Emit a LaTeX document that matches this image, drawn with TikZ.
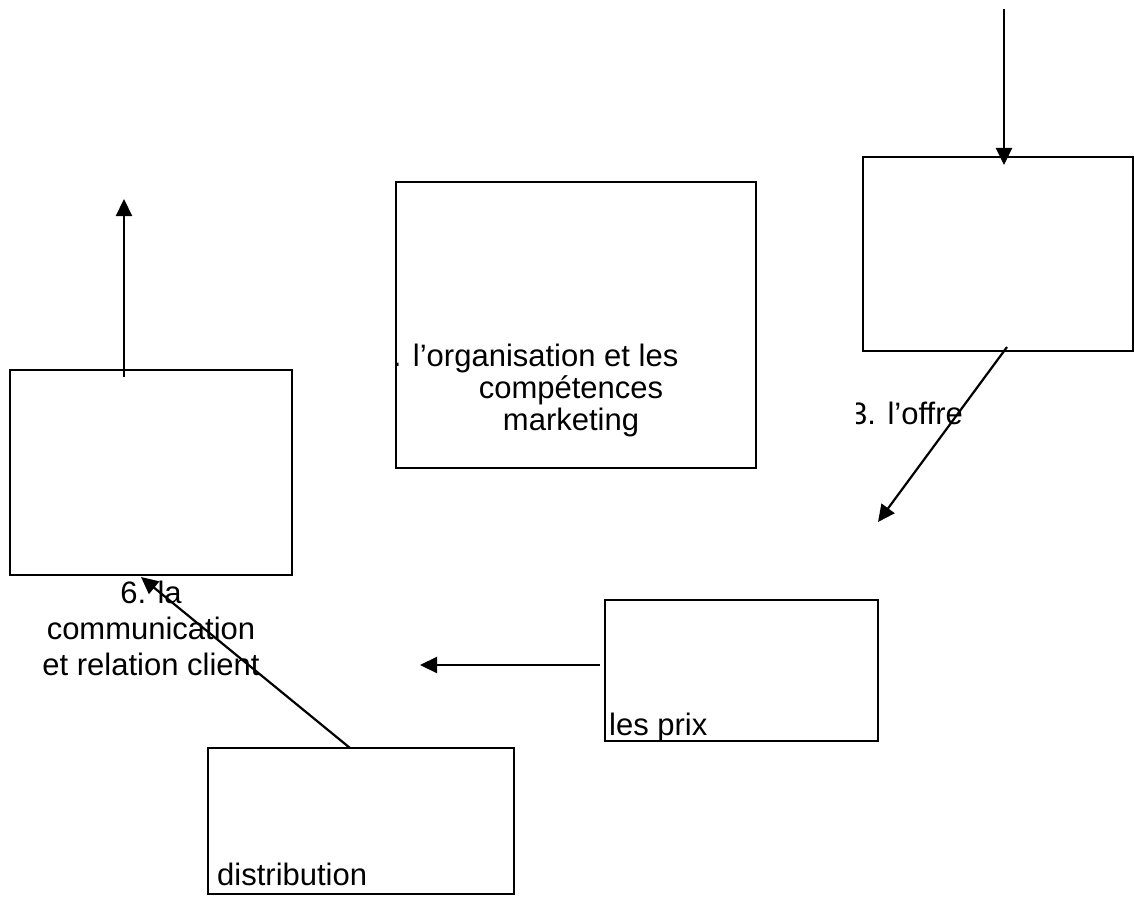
\documentclass[tikz,border=0pt]{standalone}
\usepackage{fontspec}
\setmainfont{Liberation Sans}
\usetikzlibrary{arrows.meta}
\begin{document}
\begin{tikzpicture}[x=1pt,y=-1pt,
  box/.style={draw,line width=2pt,rectangle,inner sep=0pt,outer sep=0pt,anchor=north west},
  conn/.style={line width=2.2pt,-{Triangle[length=17pt,width=16pt]}},
  lbl/.style={inner sep=0pt,font=\fontsize{31}{36}\selectfont}]
\useasboundingbox (0,0) rectangle (1134,896);

% boxes
\node[box,minimum width=282pt,minimum height=205pt] (a) at (10,370) {};
\node[box,minimum width=360pt,minimum height=286pt] (b) at (396,182) {};
\node[box,minimum width=270pt,minimum height=194pt] (c) at (863,157) {};
\node[box,minimum width=273pt,minimum height=141pt] (d) at (605,600) {};
\node[box,minimum width=306pt,minimum height=146pt] (e) at (208,748) {};

% labels
\begin{scope}
  \clip (394,182) rectangle (757,468);
  \node[lbl,align=center,anchor=north,font=\fontsize{31}{32}\selectfont] (b-txt) at (571,344)
    {2. l’organisation et les\hspace*{88pt}\\compétences\\marketing};
\end{scope}
\begin{scope}
  \clip (856.5,360) rectangle (1000,440);
  \node[lbl,anchor=base east] (c-txt) at (963,424) {3. l’offre};
\end{scope}
\node[lbl,align=center,anchor=north] (a-txt) at (151,581)
  {6. la\\communication\\et relation client};
\node[lbl,anchor=base west] (d-txt) at (609,735) {les prix};
\node[lbl,anchor=base west] (e-txt) at (217,885) {distribution};

% connector end points
\coordinate (c-src) at (1004,9);
\coordinate (c-in)  at (1004,165);
\coordinate (a-in)  at (124,377);
\coordinate (a-up)  at (124,199);
\coordinate (c-out) at (1007,347);
\coordinate (c-dn)  at (878,522);
\coordinate (d-out) at (600,665);
\coordinate (d-lt)  at (420,665);
\coordinate (e-out) at (350,748);
\coordinate (a-bot) at (141,577);

% connectors
\draw[conn] (c-src) -- (c-in);
\draw[conn] (a-in) -- (a-up);
\draw[conn] (c-out) -- (c-dn);
\draw[conn] (d-out) -- (d-lt);
\draw[conn] (e-out) -- (a-bot);
\end{tikzpicture}
\end{document}
